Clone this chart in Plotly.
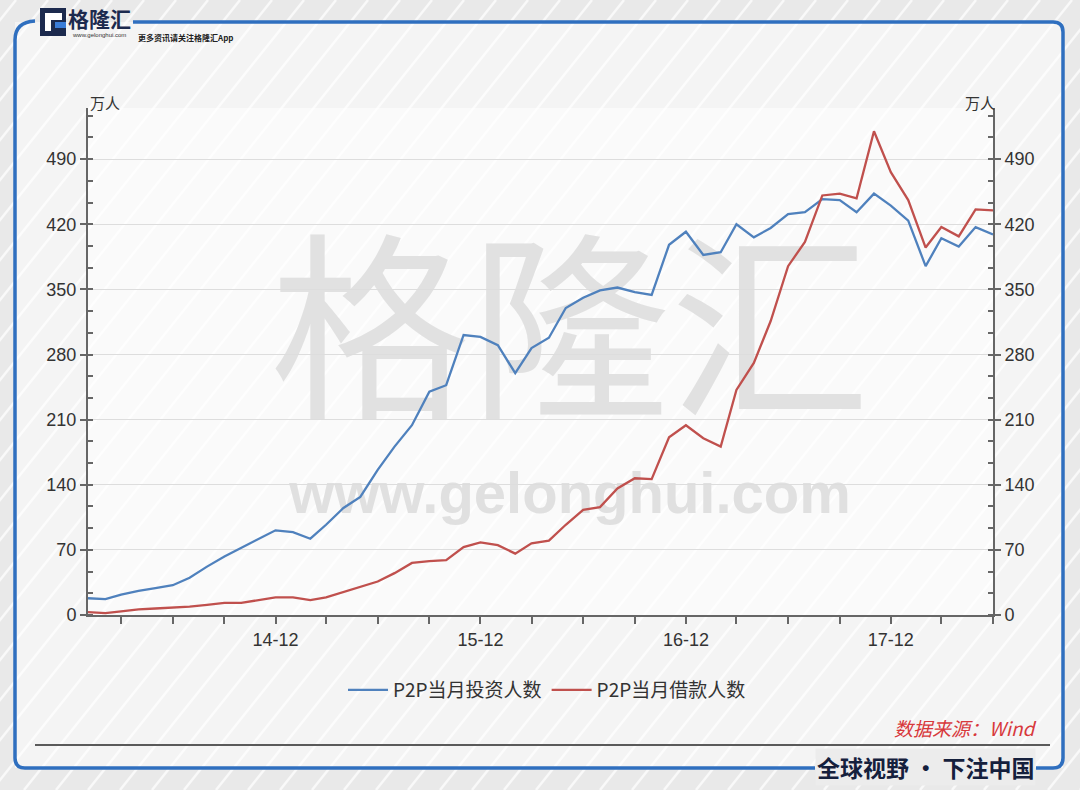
import pandas as pd
import plotly.graph_objects as go

# ---------------- data ----------------
months = pd.date_range("2014-01-01", "2018-06-01", freq="MS")
investors = [18, 17, 22, 26, 29, 32, 40, 52, 63, 72,
             82, 91, 89, 82, 97, 115, 127, 156, 181, 204,
             240, 247, 301, 299, 290, 260, 287, 298, 330, 341,
             349, 352, 347, 344, 398, 412, 387, 390, 420, 406,
             416, 431, 433, 447, 446, 433, 453, 440, 424, 375,
             405, 396, 417, 409]
borrowers = [3, 2, 4, 6, 7, 8, 9, 11, 13, 13,
             16, 19, 19, 16, 19, 25, 30, 36, 45, 56,
             58, 59, 73, 78, 75, 66, 77, 80, 97, 113,
             116, 136, 147, 146, 191, 204, 190, 181, 242, 271,
             316, 375, 401, 451, 453, 448, 520, 476, 446, 395,
             417, 407, 436, 435]
series_names = ["P2P当月投资人数", "P2P当月借款人数"]
y_ticks = [0, 70, 140, 210, 280, 350, 420, 490]
x_tick_dates = pd.date_range("2014-03-01", "2018-06-01", freq="3MS")
x_tick_labels = {"2014-12": "14-12", "2015-12": "15-12", "2016-12": "16-12", "2017-12": "17-12"}
unit_label = "万人"

# ---------------- geometry helpers ----------------
W, H = 1080, 790
PL, PR, PT, PB = 88, 993, 108, 615


def px(x):
    return (x - PL) / (PR - PL)


def py(y):
    return (PB - y) / (PB - PT)


def pt(x, y):
    return f"{px(x):.5f},{py(y):.5f}"


CJK = "Noto Sans CJK SC, sans-serif"
NUM = "Liberation Sans Narrow, Liberation Sans, Arial, sans-serif"
BLUE = "#4f81bd"
RED = "#c0504d"
AXIS = "#666666"

fig = go.Figure()
fig.add_trace(go.Scatter(x=months, y=investors, mode="lines", name=series_names[0],
                         line=dict(color=BLUE, width=2.3)))
fig.add_trace(go.Scatter(x=months, y=borrowers, mode="lines", name=series_names[1],
                         line=dict(color=RED, width=2.3), yaxis="y2"))

ticktext = [x_tick_labels.get(d.strftime("%Y-%m"), "") for d in x_tick_dates]

yrange = [0, 545]
common_y = dict(
    range=yrange, tickmode="array", tickvals=y_ticks, ticktext=[str(v) for v in y_ticks],
    ticks="outside", ticklen=6, tickwidth=1.5, tickcolor=AXIS,
    showline=True, linecolor=AXIS, linewidth=2,
    tickfont=dict(family=NUM, size=18, color="#333333"),
    minor=dict(tickmode="linear", tick0=0, dtick=70 / 3, ticks="inside", ticklen=5,
               tickcolor=AXIS, tickwidth=1.5, showgrid=False),
    zeroline=False, fixedrange=True,
)

fig.update_layout(
    width=W, height=H,
    margin=dict(l=PL, r=W - PR, t=PT, b=H - PB),
    paper_bgcolor="#e9e9e9",
    plot_bgcolor="rgba(0,0,0,0)",
    showlegend=True,
    legend=dict(orientation="h", x=px(547), xanchor="center", y=py(690), yanchor="middle",
                font=dict(family=CJK, size=19, color="#333333"),
                bgcolor="rgba(0,0,0,0)", itemwidth=40, tracegroupgap=0),
    xaxis=dict(
        type="date", range=[months[0], months[-1]],
        tickmode="array", tickvals=list(x_tick_dates), ticktext=ticktext,
        ticks="outside", ticklen=7, tickwidth=1.5, tickcolor=AXIS,
        showline=True, linecolor=AXIS, linewidth=2, showgrid=False, zeroline=False,
        tickfont=dict(family=NUM, size=18, color="#333333"),
    ),
    yaxis=dict(**common_y, showgrid=True, gridcolor="#dddddd", gridwidth=1, side="left"),
    yaxis2=dict(**common_y, showgrid=False, side="right", overlaying="y"),
)

shapes = []
# inner light area inside frame
shapes.append(dict(type="rect", xref="paper", yref="paper", layer="below",
                   x0=px(15), x1=px(1063), y0=py(768), y1=py(22),
                   fillcolor="#f4f4f4", line=dict(width=0)))
shapes.append(dict(type="rect", xref="paper", yref="paper", layer="below",
                   x0=px(PL), x1=px(PR), y0=py(PB), y1=py(PT),
                   fillcolor="#fafafa", line=dict(width=0)))
# diagonal stripes
step = 32
k = 1.25
for s in range(-1000, 1120, step):
    x0, y0 = s, H
    x1, y1 = s + H / k, 0
    shapes.append(dict(type="line", xref="paper", yref="paper", layer="below",
                       x0=px(x0), y0=py(y0), x1=px(x1), y1=py(y1),
                       line=dict(color="rgba(255,255,255,0.7)", width=2.5)))
# watermark
shapes.append(dict(type="rect", xref="paper", yref="paper", layer="below",
                   x0=px(250), x1=px(890), y0=py(455), y1=py(240),
                   line=dict(width=0), fillcolor="rgba(0,0,0,0)",
                   label=dict(text="格隆汇", textposition="middle center",
                              font=dict(family=CJK, size=200, color="#e1e1e1"))))
shapes.append(dict(type="rect", xref="paper", yref="paper", layer="below",
                   x0=px(250), x1=px(890), y0=py(515), y1=py(460),
                   line=dict(width=0), fillcolor="rgba(0,0,0,0)",
                   label=dict(text="<b>www.gelonghui.com</b>", textposition="middle center",
                              font=dict(family="Liberation Sans, Arial, sans-serif", size=58,
                                        color="#e0e0e0"))))
# frame
FRAME = "#2f6fbf"
pathA = (f"M{pt(133,22)} L{pt(1053,22)} Q{pt(1063,22)} {pt(1063,32)} "
         f"L{pt(1063,758)} Q{pt(1063,768)} {pt(1053,768)} L{pt(1036,768)}")
pathB = (f"M{pt(815,768)} L{pt(25,768)} Q{pt(15,768)} {pt(15,758)} "
         f"L{pt(15,40)} Q{pt(15,22)} {pt(35,21)}")
for p in (pathA, pathB):
    shapes.append(dict(type="path", xref="paper", yref="paper", path=p, layer="above",
                       line=dict(color=FRAME, width=3.5)))
# separator line
shapes.append(dict(type="line", xref="paper", yref="paper", layer="above",
                   x0=px(35), x1=px(1050), y0=py(745), y1=py(745),
                   line=dict(color="#5a5a5a", width=2)))
# logo icon
NAVY = "#1c2a4e"
shapes.append(dict(type="rect", xref="paper", yref="paper", layer="above",
                   x0=px(40), x1=px(66), y0=py(36), y1=py(8),
                   fillcolor=NAVY, line=dict(width=0)))
shapes.append(dict(type="rect", xref="paper", yref="paper", layer="above",
                   x0=px(45), x1=px(62), y0=py(31), y1=py(13),
                   fillcolor="#ffffff", line=dict(width=0)))
shapes.append(dict(type="rect", xref="paper", yref="paper", layer="above",
                   x0=px(51), x1=px(66), y0=py(31), y1=py(20),
                   fillcolor=NAVY, line=dict(width=0)))
shapes.append(dict(type="rect", xref="paper", yref="paper", layer="above",
                   x0=px(55), x1=px(66), y0=py(28), y1=py(22),
                   fillcolor="#3b7dd8", line=dict(width=0)))
fig.update_layout(shapes=shapes)

ann = []


def add_text(text, x, y, size, color, xanchor="center", yanchor="middle", family=CJK, **kw):
    ann.append(dict(text=text, x=px(x), y=py(y), xref="paper", yref="paper",
                    xanchor=xanchor, yanchor=yanchor, showarrow=False,
                    font=dict(family=family, size=size, color=color, **kw)))


add_text(unit_label, 105, 103, 15, "#333333")
add_text(unit_label, 980, 103, 15, "#333333")
add_text("数据来源：Wind", 1038, 727, 19, "#d8393c", xanchor="right", style="italic")
ann.append(dict(text="<b>全球视野 • 下注中国</b>", x=px(925), y=py(767), xref="paper", yref="paper",
                xanchor="center", yanchor="middle", showarrow=False, bgcolor="#ececec",
                font=dict(family=CJK, size=23, color="#15203d")))
add_text("<b>格隆汇</b>", 99, 18, 21, NAVY)
add_text("www.gelonghui.com", 99, 35, 6, "#333333", family="Liberation Sans, Arial")
add_text("<b>更多资讯请关注格隆汇App</b>", 136, 38, 8, "#222222", xanchor="left")
fig.update_layout(annotations=ann)

fig.write_html("out.html", config={"displayModeBar": False},
               post_script="document.body.style.margin='0';")
